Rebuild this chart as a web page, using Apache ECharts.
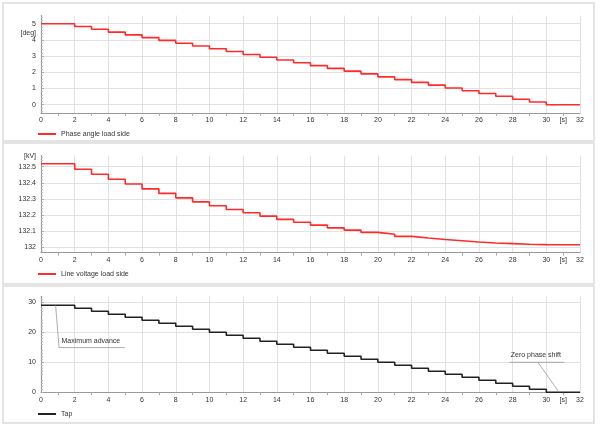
<!DOCTYPE html>
<html>
<head>
<meta charset="utf-8">
<script src="https://cdn.jsdelivr.net/npm/echarts@6/dist/echarts.min.js"></script>
<style>
  html, body { margin: 0; padding: 0; background: #fff; }
  #main { width: 600px; height: 427px; }
</style>
</head>
<body>
<div id="main"></div>
<script>
var myChart = echarts.init(document.getElementById('main'));

// time of each tap change [s]
var time = [0, 2, 3, 4, 5, 6, 7, 8, 9, 10, 11, 12, 13, 14, 15, 16, 17, 18, 19, 20,
            21, 22, 23, 24, 25, 26, 27, 28, 29, 30, 32];
// phase angle load side [deg]
var phase = [5.00, 4.83, 4.66, 4.48, 4.31, 4.14, 3.97, 3.79, 3.62, 3.45, 3.28, 3.10, 2.93,
             2.76, 2.59, 2.41, 2.24, 2.07, 1.90, 1.72, 1.55, 1.38, 1.21, 1.03, 0.86, 0.69,
             0.52, 0.34, 0.17, 0, 0];
// line voltage load side [kV]
var voltage = [132.519, 132.484, 132.453, 132.422, 132.392, 132.362, 132.334, 132.306,
               132.281, 132.257, 132.234, 132.213, 132.192, 132.172, 132.154, 132.136,
               132.119, 132.105, 132.091, 132.079, 132.066, 132.056, 132.047, 132.039,
               132.031, 132.025, 132.021, 132.017, 132.015, 132.014, 132.014];
// tap position
var tap = [29, 28, 27, 26, 25, 24, 23, 22, 21, 20, 19, 18, 17, 16, 15, 14, 13, 12, 11, 10,
           9, 8, 7, 6, 5, 4, 3, 2, 1, 0, 0];

var xTicks = [0, 2, 4, 6, 8, 10, 12, 14, 16, 18, 20, 22, 24, 26, 28, 30, 32];
var phaseTicks = [0, 1, 2, 3, 4, 5];
var voltTicks = [132, 132.1, 132.2, 132.3, 132.4, 132.5];
var tapTicks = [0, 10, 20, 30];

// unit labels sit on the axis like a tick label
var xUnit = { value: 31, text: '[s]' };
var phaseUnit = { value: 4.42, text: '[deg]' };
var voltUnit = { value: 132.565, text: '[kV]' };

// callouts in the tap panel
var maxAdvLine = [[0.87, 29], [1.07, 14.9], [4.97, 14.9]];
var zeroLine = [[27.8, 10], [31.07, 10]];
var zeroLeader = [[29.5, 10], [30.76, 0]];

function pairs(xs, ys) {
    return xs.map(function (x, i) { return [x, ys[i]]; });
}

var labelFont = { fontSize: 7, color: '#333', fontFamily: 'Liberation Sans, Arial, sans-serif' };

function makeX(idx) {
    return {
        type: 'value',
        gridIndex: idx,
        min: 0,
        max: 32,
        interval: 2,
        axisLine: { show: true, onZero: false, lineStyle: { color: '#999', width: 1.2 } },
        axisTick: { show: false },
        minorTick: { show: true, splitNumber: 2, length: 3, lineStyle: { color: '#aaa' } },
        splitLine: { show: true, lineStyle: { color: '#e2e2e2', width: 1 } },
        axisLabel: Object.assign({
            margin: 4,
            customValues: xTicks.concat([xUnit.value]),
            formatter: function (v) { return v === xUnit.value ? xUnit.text : String(v); }
        }, labelFont)
    };
}

function makeY(idx, min, max, ticks, unit, minorSplit) {
    var vals = ticks.slice();
    if (unit) vals.push(unit.value);
    return {
        type: 'value',
        gridIndex: idx,
        min: min,
        max: max,
        axisLine: { show: true, lineStyle: { color: '#999', width: 1.2 } },
        axisTick: { show: true, inside: true, length: 3, customValues: ticks, lineStyle: { color: '#aaa' } },
        minorTick: { show: true, splitNumber: minorSplit, length: 2, lineStyle: { color: '#bbb' } },
        splitLine: { show: true, lineStyle: { color: '#e2e2e2', width: 1 } },
        axisLabel: Object.assign({
            margin: 5,
            customValues: vals,
            formatter: function (v) { return unit && v === unit.value ? unit.text : String(v); }
        }, labelFont)
    };
}

function panel(y, h) {
    return {
        type: 'rect',
        shape: { x: 3, y: y, width: 591, height: h },
        style: { fill: 'none', stroke: '#dcdcdc', lineWidth: 1.5 },
        silent: true
    };
}

function legendAt(top, name) {
    return {
        data: [name],
        left: 38,
        top: top,
        padding: 0,
        icon: 'rect',
        itemWidth: 18,
        itemHeight: 2,
        itemGap: 5,
        selectedMode: false,
        textStyle: labelFont
    };
}

function callout(points, labelIndex, text, offset) {
    return points.map(function (p, i) {
        if (i !== labelIndex) return p;
        return {
            value: p,
            label: Object.assign({ show: true, position: offset, formatter: text }, labelFont)
        };
    });
}

function leader(name, data) {
    return {
        name: name,
        type: 'line',
        xAxisIndex: 2,
        yAxisIndex: 2,
        silent: true,
        symbol: 'circle',
        symbolSize: 1,
        showSymbol: true,
        itemStyle: { color: 'rgba(0,0,0,0)', borderWidth: 0 },
        lineStyle: { color: '#999', width: 0.8 },
        labelLayout: { hideOverlap: false },
        data: data
    };
}

option = {
    backgroundColor: '#fff',
    animation: false,
    graphic: [panel(3, 138), panel(143, 141), panel(286, 137)],
    grid: [
        { left: 41, width: 539, top: 15.6, height: 97.2 },
        { left: 41, width: 539, top: 155.5, height: 97.1 },
        { left: 41, width: 539, top: 296.3, height: 96 }
    ],
    xAxis: [makeX(0), makeX(1), makeX(2)],
    yAxis: [
        makeY(0, -0.5, 5.5, phaseTicks, phaseUnit, 5),
        makeY(1, 131.965, 132.57, voltTicks, voltUnit, 5),
        makeY(2, 0, 32, tapTicks, null, 5)
    ],
    legend: [
        legendAt(130.5, 'Phase angle load side'),
        legendAt(270.5, 'Line voltage load side'),
        legendAt(410.5, 'Tap')
    ],
    series: [
        {
            name: 'Phase angle load side',
            type: 'line',
            step: 'end',
            xAxisIndex: 0,
            yAxisIndex: 0,
            showSymbol: false,
            color: '#ff2b2b',
            lineStyle: { width: 1.6 },
            data: pairs(time, phase)
        },
        {
            name: 'Line voltage load side',
            type: 'line',
            step: 'end',
            xAxisIndex: 1,
            yAxisIndex: 1,
            showSymbol: false,
            color: '#ff2b2b',
            lineStyle: { width: 1.6 },
            data: pairs(time, voltage)
        },
        {
            name: 'Tap',
            type: 'line',
            step: 'end',
            xAxisIndex: 2,
            yAxisIndex: 2,
            showSymbol: false,
            color: '#222',
            lineStyle: { width: 1.6 },
            data: pairs(time, tap)
        },
        leader('maxAdv', callout(maxAdvLine, 1, 'Maximum advance', [3, -10])),
        leader('zeroLine', callout(zeroLine, 0, 'Zero phase shift', [2, -10])),
        leader('zeroLeader', zeroLeader)
    ]
};

myChart.setOption(option);
</script>
</body>
</html>
